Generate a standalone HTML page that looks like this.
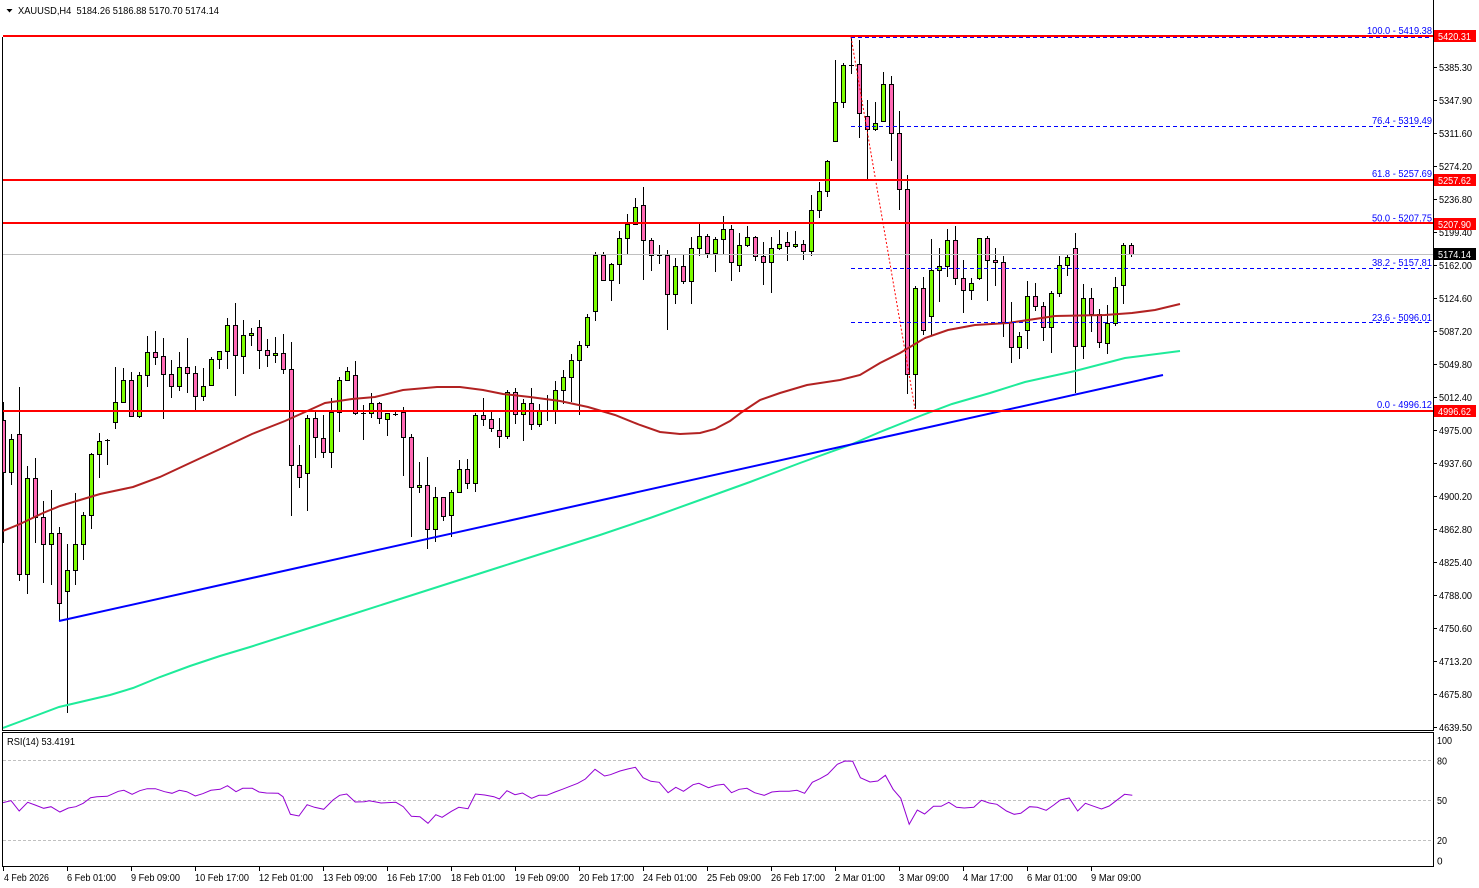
<!DOCTYPE html>
<html><head><meta charset="utf-8"><style>
html,body{margin:0;padding:0;background:#fff;}
svg{display:block;font-family:"Liberation Sans",Arial,sans-serif;}
</style></head><body>
<svg width="1479" height="888" viewBox="0 0 1479 888" xmlns="http://www.w3.org/2000/svg">
<defs><clipPath id="c"><rect x="3" y="0" width="1430" height="730"/></clipPath>
<clipPath id="r"><rect x="3" y="733" width="1430" height="133"/></clipPath></defs>
<rect width="1479" height="888" fill="#fff"/>

<!-- header -->
<path d="M6.5 9h6l-3 3.5z" fill="#000"/>
<text x="18" y="14" font-size="10.5" textLength="201" lengthAdjust="spacingAndGlyphs" xml:space="preserve">XAUUSD,H4  5184.26 5186.88 5170.70 5174.14</text>

<g clip-path="url(#c)">
<!-- wicks -->
<path fill="none" stroke="#000" stroke-width="1" d="M3.5 402V543M11.5 434V485M19.5 387V581M27.5 466V594M35.5 458V543M43.5 501V583M51.5 490V585M59.5 527V621M67.5 544V713M75.5 493V585M83.5 512V560M91.5 453V529M99.5 433V478M107.5 439V465M115.5 367V429M123.5 368V403M131.5 372V416M139.5 372V418M147.5 336V387M155.5 331V365M163.5 338V419M171.5 360V398M179.5 352V391M187.5 338V393M195.5 366V410M203.5 368V401M211.5 357V385M219.5 351V369M227.5 318V369M235.5 303V396M243.5 320V374M251.5 328V346M259.5 320V369M267.5 339V367M275.5 337V363M283.5 334V374M291.5 342V516M299.5 445V488M307.5 415V511M315.5 410V458M323.5 415V458M331.5 398V468M339.5 377V432M347.5 367V380M355.5 361V415M363.5 405V440M371.5 393V418M379.5 402V424M387.5 413V436M395.5 412V416M403.5 407V476M411.5 434V537M419.5 462V493M427.5 457V549M435.5 487V542M443.5 497V521M451.5 490V537M459.5 460V493M467.5 459V489M475.5 413V492M483.5 398V426M491.5 412V432M499.5 418V448M507.5 390V439M515.5 388V424M523.5 399V441M531.5 388V430M539.5 404V427M547.5 395V421M555.5 381V424M563.5 370V404M571.5 354V402M579.5 341V415M587.5 314V348M595.5 252V321M603.5 252V281M611.5 263V301M619.5 231V284M627.5 214V254M635.5 198V225M643.5 187V280M651.5 238V271M659.5 245V264M667.5 250V330M675.5 258V304M683.5 255V284M691.5 237V304M699.5 222V256M707.5 234V258M715.5 237V272M723.5 216V255M731.5 225V281M739.5 233V272M747.5 226V247M755.5 236V261M763.5 242V285M771.5 237V293M779.5 230V250M787.5 232V261M795.5 231V248M803.5 240V260M811.5 195V256M819.5 182V218M827.5 160V197M835.5 60V141M843.5 63V108M851.5 37V74M859.5 40V138M867.5 100V180M875.5 102V131M883.5 72V121M891.5 76V161M899.5 111V210M907.5 175V394M915.5 286V409M923.5 277V335M931.5 239V335M939.5 248V302M947.5 229V277M955.5 226V285M963.5 260V313M971.5 278V300M979.5 238V280M987.5 236V301M995.5 248V286M1003.5 256V337M1011.5 302V363M1019.5 332V359M1027.5 281V349M1035.5 283V311M1043.5 302V341M1051.5 291V353M1059.5 256V297M1067.5 254V276M1075.5 233V393M1083.5 284V359M1091.5 288V332M1099.5 309V348M1107.5 305V354M1115.5 277V326M1123.5 243V304M1131.5 243V257"/>
<!-- green bodies -->
<path fill="#7CFC00" stroke="#000" stroke-width="1" d="M9.5 439.5h4v33h-4zM25.5 478.5h4v96h-4zM49.5 533.5h4v11h-4zM65.5 570.5h4v21h-4zM73.5 544.5h4v26h-4zM81.5 515.5h4v29h-4zM89.5 454.5h4v61h-4zM97.5 441.5h4v13h-4zM113.5 402.5h4v20h-4zM121.5 380.5h4v22h-4zM137.5 375.5h4v41h-4zM145.5 352.5h4v23h-4zM177.5 367.5h4v19h-4zM201.5 386.5h4v10h-4zM209.5 359.5h4v26h-4zM217.5 351.5h4v8h-4zM225.5 325.5h4v26h-4zM241.5 335.5h4v21h-4zM249.5 333.5h4v2h-4zM273.5 353.5h4v2h-4zM305.5 418.5h4v55h-4zM329.5 412.5h4v40h-4zM337.5 380.5h4v32h-4zM345.5 371.5h4v9h-4zM369.5 403.5h4v10h-4zM385.5 413.5h4v6h-4zM417.5 485.5h4v2h-4zM433.5 497.5h4v32h-4zM449.5 492.5h4v23h-4zM457.5 469.5h4v23h-4zM473.5 415.5h4v68h-4zM505.5 392.5h4v44h-4zM521.5 403.5h4v11h-4zM537.5 410.5h4v14h-4zM553.5 390.5h4v20h-4zM561.5 377.5h4v13h-4zM569.5 360.5h4v17h-4zM577.5 345.5h4v15h-4zM585.5 317.5h4v28h-4zM593.5 255.5h4v56h-4zM609.5 264.5h4v16h-4zM617.5 238.5h4v26h-4zM625.5 224.5h4v14h-4zM633.5 207.5h4v17h-4zM673.5 266.5h4v28h-4zM689.5 248.5h4v33h-4zM697.5 236.5h4v12h-4zM713.5 239.5h4v14h-4zM721.5 229.5h4v10h-4zM737.5 245.5h4v20h-4zM745.5 237.5h4v8h-4zM769.5 248.5h4v14h-4zM777.5 244.5h4v4h-4zM793.5 244.5h4v2h-4zM809.5 210.5h4v41h-4zM817.5 191.5h4v19h-4zM825.5 161.5h4v30h-4zM833.5 102.5h4v39h-4zM841.5 65.5h4v37h-4zM873.5 123.5h4v6h-4zM881.5 84.5h4v37h-4zM913.5 288.5h4v86h-4zM929.5 270.5h4v46h-4zM937.5 266.5h4v4h-4zM945.5 240.5h4v26h-4zM969.5 283.5h4v7h-4zM977.5 238.5h4v40h-4zM1017.5 336.5h4v11h-4zM1025.5 296.5h4v34h-4zM1049.5 293.5h4v34h-4zM1057.5 265.5h4v28h-4zM1065.5 257.5h4v8h-4zM1081.5 298.5h4v48h-4zM1105.5 323.5h4v20h-4zM1113.5 287.5h4v36h-4zM1121.5 245.5h4v40h-4z"/>
<!-- pink bodies -->
<path fill="#FF69B4" stroke="#000" stroke-width="1" d="M1.5 420.5h4v52h-4zM17.5 434.5h4v140h-4zM33.5 478.5h4v39h-4zM41.5 517.5h4v27h-4zM57.5 533.5h4v70h-4zM129.5 380.5h4v36h-4zM153.5 352.5h4v5h-4zM161.5 356.5h4v18h-4zM169.5 374.5h4v12h-4zM185.5 367.5h4v6h-4zM193.5 373.5h4v23h-4zM233.5 325.5h4v30h-4zM257.5 327.5h4v23h-4zM265.5 350.5h4v5h-4zM281.5 353.5h4v16h-4zM289.5 369.5h4v96h-4zM297.5 465.5h4v12h-4zM313.5 418.5h4v19h-4zM321.5 438.5h4v14h-4zM353.5 375.5h4v38h-4zM377.5 403.5h4v15h-4zM401.5 412.5h4v25h-4zM409.5 437.5h4v50h-4zM425.5 485.5h4v44h-4zM441.5 497.5h4v19h-4zM465.5 469.5h4v14h-4zM481.5 415.5h4v4h-4zM489.5 419.5h4v9h-4zM497.5 430.5h4v6h-4zM513.5 392.5h4v22h-4zM529.5 403.5h4v21h-4zM601.5 255.5h4v25h-4zM641.5 205.5h4v35h-4zM649.5 240.5h4v15h-4zM665.5 255.5h4v39h-4zM681.5 266.5h4v15h-4zM705.5 236.5h4v17h-4zM729.5 229.5h4v33h-4zM753.5 237.5h4v19h-4zM761.5 256.5h4v6h-4zM785.5 242.5h4v4h-4zM801.5 244.5h4v7h-4zM857.5 64.5h4v49h-4zM865.5 116.5h4v13h-4zM889.5 84.5h4v49h-4zM897.5 133.5h4v56h-4zM905.5 189.5h4v185h-4zM921.5 288.5h4v42h-4zM953.5 240.5h4v38h-4zM961.5 278.5h4v12h-4zM985.5 238.5h4v22h-4zM993.5 260.5h4v2h-4zM1001.5 262.5h4v60h-4zM1009.5 322.5h4v25h-4zM1033.5 296.5h4v10h-4zM1041.5 306.5h4v21h-4zM1073.5 248.5h4v98h-4zM1089.5 298.5h4v16h-4zM1097.5 314.5h4v28h-4zM1129.5 245.5h4v9h-4z"/>
<!-- doji -->
<path fill="none" stroke="#000" stroke-width="1" d="M105 440.5h5M361 413.5h5M393 414.5h5M545 410.5h5M657 255.5h5M849 65.5h5"/>

<!-- current price line -->
<line x1="3" y1="254.5" x2="1433" y2="254.5" stroke="#C0C0C0" stroke-width="1"/>

<!-- moving averages -->
<polyline fill="none" stroke="#B22222" stroke-width="2" points="3,531 20,524 43,513 60,506 80,500 100,494 133,487 160,477 190,463 218,450 252,434 285,421 305,412 325,403 352,399 375,397 403,390 437,387 460,387 483,390 503,394 530,397 560,401 588,407 615,415 640,425 660,432 680,434 700,433 715,429 730,421 742,412 760,400 780,393 807,385 840,380 860,375 880,363 900,353 925,338 948,330 975,325 1008,323 1055,316 1105,315 1132,313 1155,310 1180,304"/>
<polyline fill="none" stroke="#1EEB9A" stroke-width="2" points="3,728 27,719 59,707 110,695 133,688 160,677 190,666 220,656 250,647 300,631 350,615 400,599 450,583 500,567 550,551 600,535 650,518 700,500 750,482 800,463 850,445 880,432 920,416 952,404 990,393 1025,382 1075,371 1125,358 1180,351"/>
<!-- trendline -->
<line x1="59" y1="621" x2="1163" y2="375" stroke="#0000FF" stroke-width="2"/>

<!-- fib diagonal -->
<line x1="851" y1="37" x2="915" y2="409" stroke="#FF0000" stroke-width="1" stroke-dasharray="2,2"/>
<!-- fib levels -->
<g stroke="#0000FF" stroke-width="1" stroke-dasharray="4,3">
<line x1="851" y1="37.5" x2="1432" y2="37.5"/>
<line x1="851" y1="126.5" x2="1432" y2="126.5"/>
<line x1="851" y1="180.5" x2="1432" y2="180.5"/>
<line x1="851" y1="223.5" x2="1432" y2="223.5"/>
<line x1="851" y1="268.5" x2="1432" y2="268.5"/>
<line x1="851" y1="322.5" x2="1432" y2="322.5"/>
<line x1="851" y1="410.5" x2="1432" y2="410.5"/>
</g>

<!-- red horizontal levels -->
<g stroke="#FF0000" stroke-width="2">
<line x1="3" y1="36" x2="1433" y2="36"/>
<line x1="3" y1="180" x2="1433" y2="180"/>
<line x1="3" y1="223" x2="1433" y2="223"/>
<line x1="3" y1="411" x2="1433" y2="411"/>
</g>
</g>

<!-- fib labels -->
<g fill="#0000FF" font-size="10" text-anchor="end">
<text x="1432" y="34" textLength="65" lengthAdjust="spacingAndGlyphs">100.0 - 5419.38</text>
<text x="1432" y="124" textLength="60" lengthAdjust="spacingAndGlyphs">76.4 - 5319.49</text>
<text x="1432" y="177" textLength="60" lengthAdjust="spacingAndGlyphs">61.8 - 5257.69</text>
<text x="1432" y="221.5" textLength="60" lengthAdjust="spacingAndGlyphs">50.0 - 5207.75</text>
<text x="1432" y="266" textLength="60" lengthAdjust="spacingAndGlyphs">38.2 - 5157.81</text>
<text x="1432" y="321" textLength="60" lengthAdjust="spacingAndGlyphs">23.6 - 5096.01</text>
<text x="1432" y="408" textLength="55" lengthAdjust="spacingAndGlyphs">0.0 - 4996.12</text>
</g>

<!-- frames -->
<g stroke="#000" stroke-width="1" fill="none">
<line x1="2.5" y1="37" x2="2.5" y2="731"/>
<line x1="1433.5" y1="0" x2="1433.5" y2="731"/>
<line x1="2" y1="730.5" x2="1434" y2="730.5"/>
<rect x="2.5" y="732.5" width="1431" height="134"/>
</g>

<!-- price axis ticks -->
<path stroke="#000" stroke-width="1" d="M1434 67.5h3M1434 100.5h3M1434 133.5h3M1434 166.5h3M1434 199.5h3M1434 232.5h3M1434 265.5h3M1434 298.5h3M1434 331.5h3M1434 364.5h3M1434 397.5h3M1434 430.5h3M1434 463.5h3M1434 496.5h3M1434 529.5h3M1434 562.5h3M1434 595.5h3M1434 628.5h3M1434 661.5h3M1434 694.5h3M1434 727.5h3"/>
<g font-size="10" fill="#000">
<text x="1439" y="71" textLength="33" lengthAdjust="spacingAndGlyphs">5385.30</text>
<text x="1439" y="104" textLength="33" lengthAdjust="spacingAndGlyphs">5347.90</text>
<text x="1439" y="137" textLength="33" lengthAdjust="spacingAndGlyphs">5311.60</text>
<text x="1439" y="170" textLength="33" lengthAdjust="spacingAndGlyphs">5274.20</text>
<text x="1439" y="203" textLength="33" lengthAdjust="spacingAndGlyphs">5236.80</text>
<text x="1439" y="236" textLength="33" lengthAdjust="spacingAndGlyphs">5199.40</text>
<text x="1439" y="269" textLength="33" lengthAdjust="spacingAndGlyphs">5162.00</text>
<text x="1439" y="302" textLength="33" lengthAdjust="spacingAndGlyphs">5124.60</text>
<text x="1439" y="335" textLength="33" lengthAdjust="spacingAndGlyphs">5087.20</text>
<text x="1439" y="368" textLength="33" lengthAdjust="spacingAndGlyphs">5049.80</text>
<text x="1439" y="401" textLength="33" lengthAdjust="spacingAndGlyphs">5012.40</text>
<text x="1439" y="434" textLength="33" lengthAdjust="spacingAndGlyphs">4975.00</text>
<text x="1439" y="467" textLength="33" lengthAdjust="spacingAndGlyphs">4937.60</text>
<text x="1439" y="500" textLength="33" lengthAdjust="spacingAndGlyphs">4900.20</text>
<text x="1439" y="533" textLength="33" lengthAdjust="spacingAndGlyphs">4862.80</text>
<text x="1439" y="566" textLength="33" lengthAdjust="spacingAndGlyphs">4825.40</text>
<text x="1439" y="599" textLength="33" lengthAdjust="spacingAndGlyphs">4788.00</text>
<text x="1439" y="632" textLength="33" lengthAdjust="spacingAndGlyphs">4750.60</text>
<text x="1439" y="665" textLength="33" lengthAdjust="spacingAndGlyphs">4713.20</text>
<text x="1439" y="698" textLength="33" lengthAdjust="spacingAndGlyphs">4675.80</text>
<text x="1439" y="731" textLength="33" lengthAdjust="spacingAndGlyphs">4639.50</text>
</g>

<!-- price tags -->
<rect x="1434" y="30" width="42" height="12" fill="#FF0000"/>
<rect x="1434" y="174" width="42" height="12" fill="#FF0000"/>
<rect x="1434" y="218" width="42" height="12" fill="#FF0000"/>
<rect x="1434" y="248" width="42" height="12" fill="#000"/>
<rect x="1434" y="405" width="42" height="12" fill="#FF0000"/>
<g font-size="10" fill="#fff">
<text x="1438" y="40" textLength="33" lengthAdjust="spacingAndGlyphs">5420.31</text>
<text x="1438" y="184" textLength="33" lengthAdjust="spacingAndGlyphs">5257.62</text>
<text x="1438" y="228" textLength="33" lengthAdjust="spacingAndGlyphs">5207.90</text>
<text x="1438" y="258" textLength="33" lengthAdjust="spacingAndGlyphs">5174.14</text>
<text x="1438" y="415" textLength="33" lengthAdjust="spacingAndGlyphs">4996.62</text>
</g>

<!-- RSI panel -->
<g stroke="#C0C0C0" stroke-width="1" stroke-dasharray="3,2">
<line x1="3" y1="760.5" x2="1433" y2="760.5"/>
<line x1="3" y1="800.5" x2="1433" y2="800.5"/>
<line x1="3" y1="840.5" x2="1433" y2="840.5"/>
</g>
<g clip-path="url(#r)">
<polyline fill="none" stroke="#9400D3" stroke-width="1" points="3,802.7 11.1,800.7 19.2,811 27.7,802.3 35.1,805 43.7,808.3 51,806.7 59.9,812 68.4,808 75.8,806.7 83.2,803.3 90.6,797.7 96.9,796.7 107.3,796.3 118.4,791.3 123.9,790.3 132.1,794.3 139.8,790.7 147.2,788.7 155.4,788.7 164.6,791.7 172,793.3 179.4,790.3 186.8,791.7 195.3,796 202.7,793.7 210.9,790.3 220.1,789.3 227.5,785.7 236,791.7 242.7,788.3 252.3,788.3 259,792 266.4,793 278.2,793.3 283,796.7 290.4,814.3 298.9,816 307.1,804.7 314.5,807.3 323.7,809.3 333,800 339.6,795.3 346.7,794 355.2,802 364.4,801.7 369.2,800.7 377.4,802.3 381,803 395.9,802.3 403.3,806.7 411.4,816.3 419.9,816.7 428,823.3 435.8,814.7 442.1,817.3 451.4,811.3 458.8,807.3 468,808.7 475.4,794 484.7,795 493.9,796.7 499.4,799 506.9,790.7 515,794.7 522.4,793 531.6,798.3 539,795.3 546.8,795.3 555,792 562.3,789.3 571.6,785.7 577.7,783.3 585.4,779 595,769.3 604.6,776 610.4,774.7 620,771 627.7,769 635.4,767.3 643.1,777.7 650.8,781.3 659.2,782.3 668.1,792.7 675.8,787.3 683.5,791.3 693.1,784.7 698.8,783.3 708.5,787.7 716.2,785.3 723.8,784.3 731.5,792.7 739.2,789.3 746.9,788.3 754.6,792.7 764.2,795.3 771.9,792 779.6,791.3 789.2,791.3 796.9,790.3 804.6,793.3 812.3,782.3 820,778.7 827.7,774.3 837.3,764.3 845,761 852.7,761.3 860.4,777.7 870,782 877.7,781 885.4,775.3 893.1,789.3 900.8,798.3 909.2,824.3 917.3,810 924.6,814 933.5,806.3 941.2,806.3 948.8,802.3 956.5,807.3 964.2,808 973.8,807.3 981.5,800.3 989.2,803 996.9,804.3 1006.5,811 1014.2,814.3 1020.8,813.3 1029.6,806.7 1037.3,807.3 1046.2,810.3 1053.8,805 1060.4,800 1069.2,798 1077.7,811 1085.4,803.3 1093.8,806.3 1101.5,809 1109.2,806 1116.2,800.7 1124.6,794.3 1132.3,795.3"/>
</g>
<text x="7" y="745" font-size="10" textLength="68" lengthAdjust="spacingAndGlyphs">RSI(14) 53.4191</text>
<g font-size="10" fill="#000">
<text x="1437" y="744" textLength="15" lengthAdjust="spacingAndGlyphs">100</text>
<text x="1437" y="764.5" textLength="10" lengthAdjust="spacingAndGlyphs">80</text>
<text x="1437" y="804" textLength="10" lengthAdjust="spacingAndGlyphs">50</text>
<text x="1437" y="844" textLength="10" lengthAdjust="spacingAndGlyphs">20</text>
<text x="1437" y="864.5">0</text>
</g>

<!-- time axis -->
<path stroke="#000" stroke-width="1" d="M3.5 867v4M67.5 867v4M131.5 867v4M195.5 867v4M259.5 867v4M323.5 867v4M387.5 867v4M451.5 867v4M515.5 867v4M579.5 867v4M643.5 867v4M707.5 867v4M771.5 867v4M835.5 867v4M899.5 867v4M963.5 867v4M1027.5 867v4M1091.5 867v4"/>
<g font-size="10" fill="#000">
<text x="4" y="881" textLength="45" lengthAdjust="spacingAndGlyphs">4 Feb 2026</text>
<text x="67" y="881" textLength="49" lengthAdjust="spacingAndGlyphs">6 Feb 01:00</text>
<text x="131" y="881" textLength="49" lengthAdjust="spacingAndGlyphs">9 Feb 09:00</text>
<text x="195" y="881" textLength="54" lengthAdjust="spacingAndGlyphs">10 Feb 17:00</text>
<text x="259" y="881" textLength="54" lengthAdjust="spacingAndGlyphs">12 Feb 01:00</text>
<text x="323" y="881" textLength="54" lengthAdjust="spacingAndGlyphs">13 Feb 09:00</text>
<text x="387" y="881" textLength="54" lengthAdjust="spacingAndGlyphs">16 Feb 17:00</text>
<text x="451" y="881" textLength="54" lengthAdjust="spacingAndGlyphs">18 Feb 01:00</text>
<text x="515" y="881" textLength="54" lengthAdjust="spacingAndGlyphs">19 Feb 09:00</text>
<text x="579" y="881" textLength="55" lengthAdjust="spacingAndGlyphs">20 Feb 17:00</text>
<text x="643" y="881" textLength="54" lengthAdjust="spacingAndGlyphs">24 Feb 01:00</text>
<text x="707" y="881" textLength="54" lengthAdjust="spacingAndGlyphs">25 Feb 09:00</text>
<text x="771" y="881" textLength="54" lengthAdjust="spacingAndGlyphs">26 Feb 17:00</text>
<text x="835" y="881" textLength="50" lengthAdjust="spacingAndGlyphs">2 Mar 01:00</text>
<text x="899" y="881" textLength="50" lengthAdjust="spacingAndGlyphs">3 Mar 09:00</text>
<text x="963" y="881" textLength="50" lengthAdjust="spacingAndGlyphs">4 Mar 17:00</text>
<text x="1027" y="881" textLength="50" lengthAdjust="spacingAndGlyphs">6 Mar 01:00</text>
<text x="1091" y="881" textLength="50" lengthAdjust="spacingAndGlyphs">9 Mar 09:00</text>
</g>
</svg>
</body></html>
